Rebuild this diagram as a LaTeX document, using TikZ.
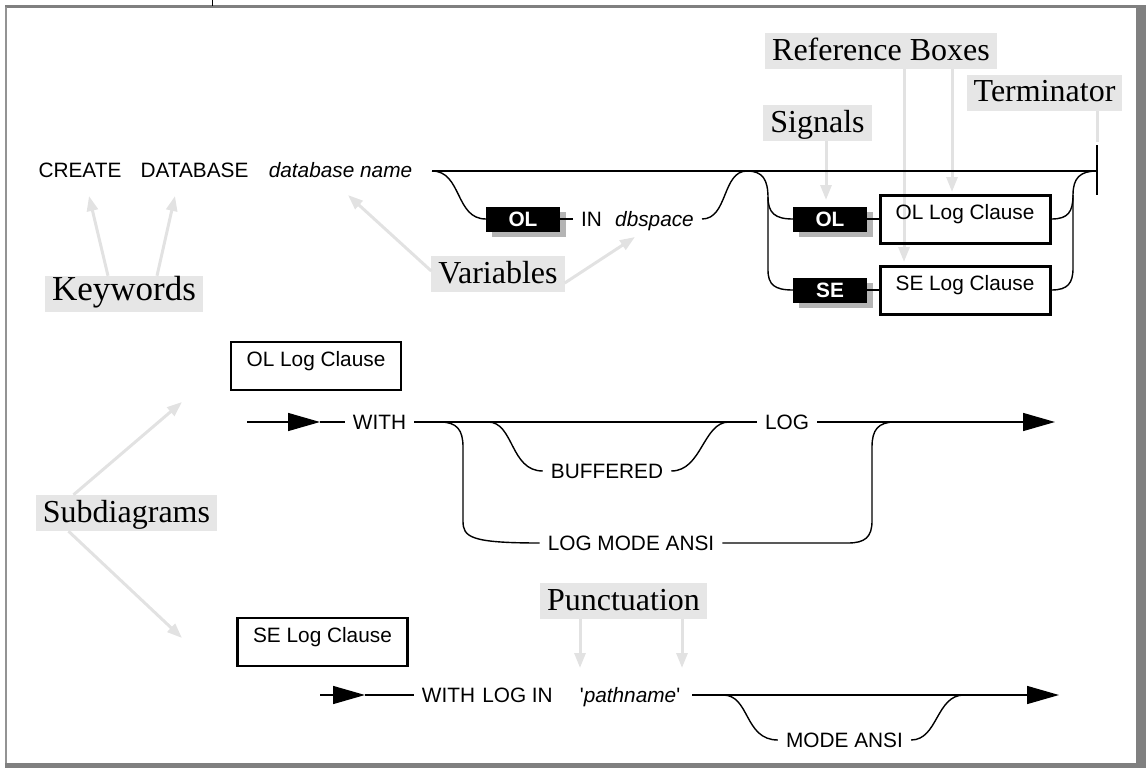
\documentclass[tikz,border=0pt]{standalone}
\usepackage{fontspec}
\setmainfont{Liberation Serif}
\newfontfamily\railfont{Liberation Sans}
\usetikzlibrary{arrows.meta,shadows}
\definecolor{framegray}{RGB}{128,128,128}
\definecolor{notebg}{RGB}{230,230,230}
\definecolor{notearrow}{RGB}{226,226,226}
\definecolor{sigshadow}{RGB}{180,180,180}
\begin{document}
\begin{tikzpicture}[x=1pt,y=-1pt,
  rail/.style={line width=1.4pt, black},
  railtext/.style={font=\railfont\fontsize{20.8}{24}\selectfont, inner xsep=8pt, inner ysep=0pt, text height=14pt, text depth=0pt},
  vartext/.style={railtext, font=\railfont\itshape\fontsize{20.8}{24}\selectfont},
  signal/.style={fill=black, text=white, font=\railfont\bfseries\fontsize{20.8}{24}\selectfont,
    minimum width=74pt, minimum height=25pt, inner sep=0pt, text height=14pt, text depth=0pt,
    general shadow={fill=sigshadow, shadow xshift=6pt, shadow yshift=-5.5pt}},
  refbox/.style={draw, line width=3pt, font=\railfont\fontsize{20.8}{24}\selectfont,
    minimum width=170pt, inner xsep=0pt, inner ysep=0pt, text height=24pt, text depth=24pt, anchor=base},
  subbox/.style={refbox, line width=2.6pt},
  note/.style={fill=notebg, font=\fontsize{32}{36}\selectfont, inner xsep=7pt, inner ysep=0pt,
    text height=27pt, text depth=9pt, anchor=base},
  notearrow/.style={draw=notearrow, line width=3pt, -{Triangle[length=15pt,width=11pt]}},
  noteline/.style={draw=notearrow, line width=3pt},
  bigtip/.style={-{Triangle[length=32pt,width=18pt]}}
]
\useasboundingbox (0,0) rectangle (1146,768);

% ---------- page frame ----------
\fill[framegray] (5,5.5) rectangle (1146,8.5);
\fill[framegray!85] (4.7,7) rectangle (7.3,765);
\fill[framegray] (5,763) rectangle (1146,768);
\fill[framegray] (1136,7) rectangle (1146,768);
\draw[line width=0.8pt] (212,0) -- (212,6);

% ---------- annotation labels ----------
\node[note, font=\fontsize{35}{38}\selectfont, text height=24pt, text depth=12pt] (kw) at (124,300) {Keywords};
\node[note] (var) at (498,283) {Variables};
\node[note] (refs) at (881,60) {Reference Boxes};
\node[note] (term) at (1044.5,102) {Terminator};
\node[note] (sigs) at (817.5,132) {Signals};
\node[note] (subs) at (126.5,522) {Subdiagrams};
\node[note] (punct) at (623.5,610) {Punctuation};

\coordinate (kwA) at (89,196);
\coordinate (kwB) at (175,196);
\coordinate (varA) at (348,195);
\coordinate (varB) at (635,237);
\coordinate (refA) at (904,262);
\coordinate (refB) at (952,192);
\coordinate (sigA) at (826,200);
\coordinate (termA) at (1097,142);
\coordinate (subA) at (182,402);
\coordinate (subB) at (182,638);
\coordinate (punA) at (580,668);
\coordinate (punB) at (682,668);

\draw[notearrow] ([xshift=-16pt]kw.north) -- (kwA);
\draw[notearrow] ([xshift=33pt]kw.north) -- (kwB);
\draw[notearrow] ([yshift=3pt]var.west) -- (varA);
\draw[notearrow] ([yshift=-9pt]var.east) -- (varB);
\draw[notearrow] ([xshift=23pt]refs.south) -- (refA);
\draw[notearrow] ([xshift=71pt]refs.south) -- (refB);
\draw[notearrow] ([xshift=8.5pt]sigs.south) -- (sigA);
\draw[noteline] ([xshift=52.5pt]term.south) -- (termA);
\draw[notearrow] ([xshift=-53pt]subs.north) -- (subA);
\draw[notearrow] ([xshift=-58pt]subs.south) -- (subB);
\draw[notearrow] ([xshift=-43.5pt]punct.south) -- (punA);
\draw[notearrow] ([xshift=58.5pt]punct.south) -- (punB);

% ---------- CREATE DATABASE statement ----------
\node[railtext] (create) at (80,170) {CREATE};
\node[railtext] (dbkw) at (194.5,170) {DATABASE};
\node[vartext] (dbname) at (340.5,170) {database name};

\coordinate (r0) at (432,171);
\coordinate (tb) at (1097,171);
\coordinate (arch) at (747,171);
\coordinate (rj) at (1073,195);

\node[signal] (sig1) at (523,219) {OL};
\node[railtext] (in1) at (591.5,219) {IN};
\node[vartext] (dbsp) at (654.5,219) {dbspace};

\node[signal] (sig2) at (830,219) {OL};
\node[signal] (sig3) at (830,290) {SE};
\node[refbox] (ref1) at (965,219) {OL Log Clause};
\node[refbox] (ref2) at (965,290) {SE Log Clause};

\draw[rail] (r0) -- (tb);
\draw[rail] (r0) .. controls (462,171) and (455,219) .. (sig1.west);
\draw[rail] (sig1.east) -- (in1.west);
\draw[rail] (dbsp.east) .. controls (728,219) and (722,171) .. (arch);
\draw[rail] (arch) .. controls (763,171) and (768,180) .. (768,198) -- (768,270)
  .. controls (768,285) and (775,290) .. (sig3.west);
\draw[rail] (768,197) .. controls (768,213) and (775,219) .. (sig2.west);
\draw[rail] (sig2.east) -- (ref1.west);
\draw[rail] (sig3.east) -- (ref2.west);
\draw[rail] (ref1.east) .. controls (1068,219) and (1073,212) .. (rj);
\draw[rail] (ref2.east) .. controls (1068,290) and (1073,283) .. (1073,268) -- (rj);
\draw[rail] (rj) .. controls (1073,178) and (1080,171) .. (tb);
\draw[line width=2pt] (1097,145) -- (1097,195);

% ---------- OL Log Clause subdiagram ----------
\node[subbox] (sd1) at (316,366) {OL Log Clause};
\coordinate (s1) at (247,422);
\coordinate (t1) at (320,422);
\coordinate (e1) at (1055,422);
\node[railtext] (with1) at (379.5,422) {WITH};
\node[railtext] (log1) at (787,422) {LOG};
\node[railtext] (buf) at (607,471) {BUFFERED};
\node[railtext] (lma) at (631,543) {LOG MODE ANSI};

\draw[rail, bigtip] (s1) -- (t1);
\draw[rail] (t1) -- (with1.west);
\draw[rail] (with1.east) -- (log1.west);
\draw[rail] (440,422) .. controls (457,422) and (463,430) .. (463,447) -- (463,521)
  .. controls (463,537) and (470,543) .. (lma.west);
\draw[rail] (lma.east) -- (848,543) .. controls (865,543) and (872,537) .. (872,521)
  -- (872,447) .. controls (872,430) and (878,422) .. (895,422);
\draw[rail] (488,422) .. controls (514,422) and (510,471) .. (buf.west);
\draw[rail] (buf.east) .. controls (702,471) and (703,422) .. (729,422);
\draw[rail, bigtip] (log1.east) -- (e1);

% ---------- SE Log Clause subdiagram ----------
\node[subbox] (sd2) at (322.5,642) {SE Log Clause};
\coordinate (s2) at (320,695);
\coordinate (t2) at (365,695);
\coordinate (e2) at (1059,695);
\node[railtext] (with2) at (448.5,695) {WITH};
\node[railtext] (login) at (517.5,695) {LOG IN};
\node[railtext, inner xsep=4pt] (path) at (630,695) {\textquotesingle\textit{pathname}\textquotesingle};
\node[railtext] (mode) at (844.5,740) {MODE ANSI};

\draw[rail, bigtip] (s2) -- (t2);
\draw[rail] (t2) -- (with2.west);
\draw[rail, bigtip] ([xshift=8pt]path.east) -- (e2);
\draw[rail] (723,695) .. controls (750,695) and (744,740) .. (mode.west);
\draw[rail] (mode.east) .. controls (938,740) and (936,695) .. (964,695);
\end{tikzpicture}
\end{document}
